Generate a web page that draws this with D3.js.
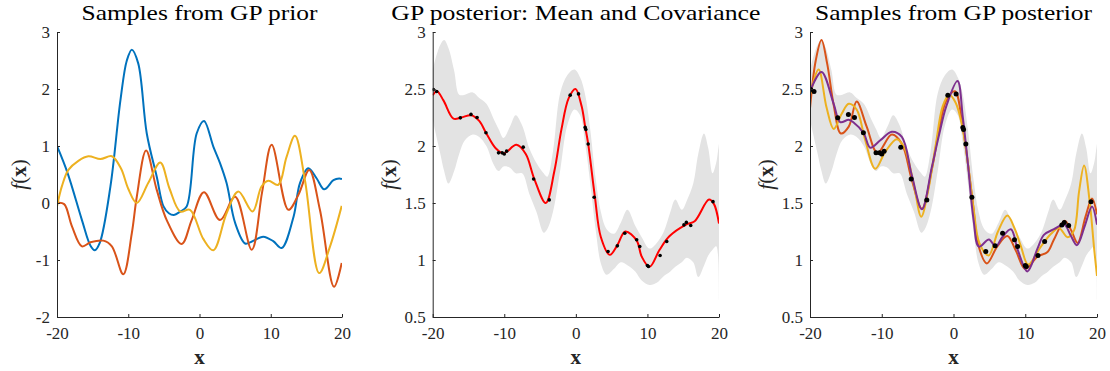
<!DOCTYPE html>
<html><head><meta charset="utf-8">
<script src="https://cdn.jsdelivr.net/npm/d3@7"></script>
<style>body{margin:0;background:#fff}svg{display:block}
text{font-family:"Liberation Serif","DejaVu Serif","Noto Serif",serif;}</style>
</head><body>
<svg id="c" width="1110" height="371"></svg>
<script>
// ---------- DATA ----------
const titles = ["Samples from GP prior", "GP posterior: Mean and Covariance", "Samples from GP posterior"];
const xTicks = [-20, -10, 0, 10, 20];
const yTicksPrior = [-2, -1, 0, 1, 2, 3];
const yTicksPost = [0.5, 1, 1.5, 2, 2.5, 3];

// Panel 1: prior samples
const priorBlueX = [-20,-18.5,-16.5,-15.3,-14.7,-14.0,-12.5,-11.1,-10.2,-9.5,-8.6,-7.4,-6,-5.05,-4.3,-3.6,-2.7,-1.8,-0.4,0.63,1.94,2.88,3.8,5,6.4,7.3,8.95,10.35,11.53,13.2,14.1,15.27,16.45,17.5,18.8,19.6,20];
const priorBlueY = [1.0,0.52,-0.3,-0.75,-0.83,-0.7,0.29,1.8,2.5,2.69,2.45,1.22,0.46,-0.06,-0.18,-0.21,-0.15,-0.06,1.22,1.44,0.99,0.70,0.35,-0.35,-0.71,-0.68,-0.59,-0.67,-0.79,-0.24,0.35,0.61,0.43,0.24,0.40,0.43,0.42];
const priorOrangeX = [-20,-19,-17.9,-16.5,-15.3,-13.5,-12.3,-10.7,-9.5,-8.8,-7.5,-6,-4.6,-2.5,-1.1,0.63,2.88,5,7.33,8.8,10.13,12.47,13.9,15.4,16.9,18.88,19.96];
const priorOrangeY = [0.0,-0.02,-0.41,-0.76,-0.69,-0.66,-0.76,-1.25,-0.53,0.11,0.92,0.23,-0.3,-0.72,-0.3,0.19,-0.3,0.11,-0.82,0.2,1.02,-0.12,0.15,0.58,-0.12,-1.47,-1.05];
const priorYellowX = [-20,-19.3,-18.4,-17,-15.6,-13.9,-12.3,-11,-10,-8.8,-7.2,-5.5,-4.2,-2.7,-1.33,0.53,1.94,3.8,5.45,7.45,8.7,9.66,11.06,12.2,13.4,14.8,16.8,18.3,19.96];
const priorYellowY = [-0.06,0.3,0.58,0.74,0.82,0.77,0.82,0.6,0.25,0.0,0.35,0.71,0.25,-0.15,-0.12,-0.63,-0.83,-0.18,0.2,-0.15,0.29,0.39,0.32,0.8,1.18,0.4,-1.23,-0.77,-0.05];

// Panel 2: posterior mean and confidence band
const meanX = [-20,-19.4,-18.5,-17.1,-16,-14.6,-13.5,-12.5,-11.2,-10.1,-8.3,-7,-5.8,-4.2,-3,-2,-1,-0.05,0.8,1.3,1.72,2.65,3.5,4.74,5.8,6.9,8.5,9.2,10.3,11.7,13.1,15.4,16.6,18.6,19.3,20];
const meanY = [2.446,2.48,2.40,2.24,2.25,2.27,2.22,2.11,1.98,1.935,2.01,1.93,1.71,1.50,1.78,2.15,2.42,2.50,2.35,2.17,2.02,1.56,1.2,1.045,1.13,1.25,1.17,1.03,0.94,1.09,1.21,1.31,1.34,1.53,1.49,1.32];
const bandX = [-20,-19,-18.4,-17.8,-17,-16.3,-15.5,-14.4,-13.5,-12.5,-11.5,-10.8,-10.1,-9.2,-8.4,-7.5,-6.5,-5.5,-4.5,-4,-3.2,-2.2,-1.2,-0.2,0.6,1.3,2,2.8,3.5,4.3,5.3,6.3,7.2,8.3,9.2,10.3,11.3,12.3,13.2,13.9,14.8,15.5,16.4,17.1,17.9,18.5,19.1,19.6,19.85,20];
const bandUpper = [2.67,2.88,2.93,2.86,2.66,2.45,2.45,2.47,2.42,2.37,2.24,2.15,2.07,2.17,2.27,2.18,1.98,1.85,1.76,1.73,1.95,2.46,2.62,2.67,2.6,2.45,2.15,1.7,1.42,1.27,1.23,1.33,1.44,1.30,1.20,1.10,1.15,1.25,1.42,1.53,1.44,1.52,1.67,1.93,2.11,1.98,1.76,1.85,1.95,2.02];
const bandLower = [2.23,1.95,1.78,1.67,1.78,1.93,2.05,2.10,2.08,2.00,1.84,1.78,1.82,1.81,1.76,1.76,1.58,1.42,1.24,1.27,1.42,1.78,2.18,2.32,2.27,2.02,1.68,1.25,0.97,0.87,0.92,0.98,0.955,0.90,0.82,0.78,0.80,0.86,0.90,0.94,0.98,1.02,0.98,0.85,0.95,1.04,1.09,1.12,1.05,0.62];

// Observations
const obsX = [-19.9,-19.44,-16.14,-14.65,-13.8,-12.56,-10.8,-10.3,-10.0,-9.67,-7.35,-5.9,-3.72,-0.79,0.37,1.3,1.4,1.72,2.56,4.5,5.8,6.84,8.5,8.93,10.0,10.14,11.77,12.7,15.1,15.44,16.05,19.16];
const obsY = [2.495,2.478,2.247,2.277,2.25,2.116,1.94,1.94,1.93,1.955,1.99,1.71,1.527,2.446,2.457,2.163,2.145,2.017,1.55,1.075,1.124,1.235,1.177,1.118,0.952,0.943,1.04,1.162,1.308,1.33,1.302,1.512];

// Panel 3: posterior samples
const postOrangeX = [-20,-19.2,-18.4,-17.6,-16.7,-15.7,-14.6,-13.5,-12.1,-10.6,-8.6,-7.2,-5.8,-4.4,-3.0,-2.0,-1.0,0.2,1.3,2.0,2.7,3.5,4.65,6.1,7.5,8.7,10.0,11.7,13.1,14.0,15.5,16.4,17.3,18.4,19.3,20];
const postOrangeY = [2.33,2.75,2.93,2.72,2.36,2.11,2.17,2.39,2.17,1.94,2.10,2.02,1.70,1.45,1.80,2.15,2.40,2.48,2.16,1.85,1.50,1.12,0.97,1.12,1.21,1.08,0.92,1.03,1.07,1.18,1.345,1.26,1.15,1.38,1.54,1.40];
const postYellowX = [-20,-18.8,-17.7,-16.7,-15.6,-14.6,-13.5,-12.3,-10.9,-9.5,-7.9,-6.8,-5.5,-4.5,-3.5,-2.5,-1.5,-0.6,0.3,1.2,2.0,2.8,3.6,4.9,6.2,7.5,8.5,9.4,10.4,12.2,13.6,14.7,15.9,16.8,17.5,18.2,19.0,19.6,20];
const postYellowY = [2.45,2.67,2.34,2.15,2.28,2.37,2.32,2.05,1.80,1.95,2.06,1.98,1.65,1.38,1.62,2.0,2.35,2.45,2.38,2.18,1.85,1.45,1.15,1.04,1.25,1.39,1.28,1.12,0.96,1.12,1.23,1.28,1.20,1.26,1.6,1.83,1.5,1.1,0.86];
const postPurpleX = [-20,-18.4,-16.7,-15.8,-14.6,-14.0,-12.5,-11.6,-10.2,-8.6,-7.2,-5.8,-4.4,-3.0,-2.0,-1.0,0.56,1.3,2.0,2.8,3.54,4.94,5.87,6.8,8.0,9.0,10.3,11.7,12.6,14.0,15.43,16.3,17.2,18.3,19.3,20];
const postPurpleY = [2.48,2.65,2.37,2.21,2.23,2.21,2.11,1.985,2.05,2.125,2.08,1.74,1.445,1.82,2.10,2.35,2.57,2.25,1.85,1.35,1.117,1.18,1.117,1.2,1.27,1.08,0.90,1.10,1.22,1.27,1.31,1.22,1.13,1.30,1.47,1.31];

// ---------- DRAWING ----------
const svg = d3.select('#c');
const AX = "#262626";
const panels = [
  {x0: 57, x1: 342, yDom: [-2, 3], yTicks: yTicksPrior, ylabX: 26, titleW: 236},
  {x0: 432.7, x1: 719, yDom: [0.5, 3], yTicks: yTicksPost, ylabX: 396, titleW: 369},
  {x0: 810, x1: 1097, yDom: [0.5, 3], yTicks: yTicksPost, ylabX: 773, titleW: 277}
];
const yTop = 32, yBot = 317;
const curve = d3.curveCatmullRom.alpha(0.5);
const zip = (xs, ys) => xs.map((x, i) => [x, ys[i]]);

panels.forEach((p, i) => {
  p.x = d3.scaleLinear().domain([-20, 20]).range([p.x0, p.x1]);
  p.y = d3.scaleLinear().domain(p.yDom).range([yBot, yTop]);
  p.g = svg.append('g');
  const cid = 'clip' + i;
  svg.append('clipPath').attr('id', cid).append('rect')
    .attr('x', p.x0).attr('y', yTop - 2).attr('width', p.x1 - p.x0).attr('height', yBot - yTop + 2);
  p.plot = p.g.append('g').attr('clip-path', `url(#${cid})`);
});

function line(p, xs, ys, color, w) {
  const gen = d3.line().x(d => p.x(d[0])).y(d => p.y(d[1])).curve(curve);
  p.plot.append('path').attr('d', gen(zip(xs, ys))).attr('fill', 'none')
    .attr('stroke', color).attr('stroke-width', w).attr('stroke-linejoin', 'round');
}
function band(p) {
  const a = d3.area().x(d => p.x(d[0])).y0(d => p.y(d[2])).y1(d => p.y(d[1])).curve(curve);
  p.plot.append('path').attr('d', a(bandX.map((x, i) => [x, bandUpper[i], bandLower[i]])))
    .attr('fill', '#e3e3e3').attr('stroke', 'none');
}
function dots(p, r) {
  p.plot.selectAll(null).data(zip(obsX, obsY)).enter().append('circle')
    .attr('cx', d => p.x(d[0])).attr('cy', d => p.y(d[1])).attr('r', r).attr('fill', '#000');
}

const P1 = panels[0];
line(P1, priorBlueX, priorBlueY, '#0072BD', 2);
line(P1, priorOrangeX, priorOrangeY, '#D95319', 2);
line(P1, priorYellowX, priorYellowY, '#EDB120', 2);
const P2 = panels[1];
band(P2);
line(P2, meanX, meanY, '#FF0000', 2);
dots(P2, 1.8);
const P3 = panels[2];
band(P3);
line(P3, postOrangeX, postOrangeY, '#D95319', 2);
line(P3, postYellowX, postYellowY, '#EDB120', 2);
line(P3, postPurpleX, postPurpleY, '#7E2F8E', 2);
dots(P3, 2.5);

panels.forEach((p, i) => {
  const fmt = d => String(d);
  const ax = p.g.append('g').attr('transform', `translate(0,${yBot})`)
    .call(d3.axisBottom(p.x).tickValues(xTicks).tickFormat(fmt).tickSizeInner(-3).tickSizeOuter(0).tickPadding(8));
  const ay = p.g.append('g').attr('transform', `translate(${p.x0},0)`)
    .call(d3.axisLeft(p.y).tickValues(p.yTicks).tickFormat(fmt).tickSizeInner(-3).tickSizeOuter(0).tickPadding(7));
  [ax, ay].forEach(a => {
    a.attr('font-family', null).attr('font-size', null);
    a.select('.domain').attr('stroke', AX).attr('stroke-width', 1);
    a.selectAll('.tick line').attr('stroke', AX).attr('stroke-width', 1);
    a.selectAll('.tick text').attr('fill', AX).style('font-size', '17px');
  });
  ax.selectAll('.tick text').attr('dy', '0.8em');
  p.g.append('text').attr('x', (p.x0 + p.x1) / 2).attr('y', 364).attr('text-anchor', 'middle')
    .style('font-size', '21px').style('font-weight', 'bold').attr('fill', AX).text('x');
  const yl = p.g.append('text').attr('transform', `translate(${p.ylabX},${(yTop + yBot) / 2}) rotate(-90)`)
    .attr('text-anchor', 'middle').style('font-size', '21px').attr('fill', AX);
  yl.append('tspan').style('font-style', 'italic').text('f');
  yl.append('tspan').text('(');
  yl.append('tspan').style('font-weight', 'bold').text('x');
  yl.append('tspan').text(')');
  p.g.append('text').attr('x', (p.x0 + p.x1) / 2).attr('y', 20).attr('text-anchor', 'middle')
    .style('font-size', '22px').attr('fill', '#000')
    .attr('textLength', p.titleW).attr('lengthAdjust', 'spacingAndGlyphs').text(titles[i]);
});
</script>
</body></html>
